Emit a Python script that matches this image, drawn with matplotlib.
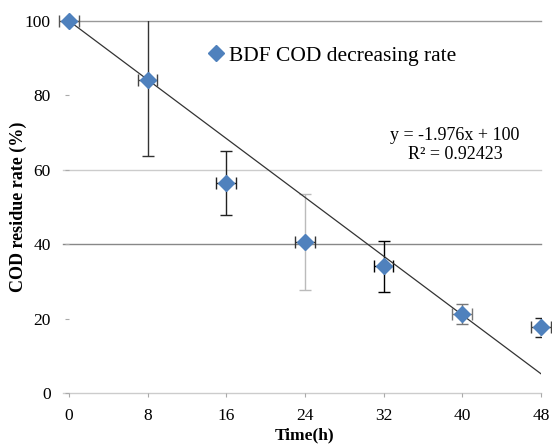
import matplotlib
matplotlib.use("Agg")
import matplotlib.pyplot as plt
import numpy as np

time_h = [0, 8, 16, 24, 32, 40, 48]
cod_residue = [100, 84.1, 56.4, 40.6, 34.0, 21.2, 17.6]
y_err = [0, 20.4, 8.5, 13.0, 6.8, 2.6, 2.6]
x_err = [1, 1, 1, 1, 1, 1, 1]
vcolors = ['#555555', '#333333', '#222222', '#bbbbbb', '#000000', '#777777', '#222222']
hcolors = ['#555555', '#444444', '#222222', '#333333', '#000000', '#777777', '#444444']
slope, intercept = -1.976, 100
x_ticks = [0, 8, 16, 24, 32, 40, 48]
y_ticks = [0, 20, 40, 60, 80, 100]

plt.rcParams['font.family'] = ['Liberation Serif', 'DejaVu Serif']

fig = plt.figure(figsize=(5.52, 4.45), dpi=100)
ax = fig.add_axes([0.125, 0.117, 0.855, 0.836])
ax.set_xlim(0, 48)
ax.set_ylim(0, 100)

# grid lines (visible ones in reference)
for yv, c in [(100, '#999999'), (60, '#cccccc'), (40, '#888888'), (0, '#cccccc')]:
    ax.axhline(yv, color=c, lw=1.0, zorder=1, xmin=-0.013, clip_on=False)

for i in range(len(time_h)):
    ax.errorbar(time_h[i], cod_residue[i], yerr=y_err[i], fmt='none',
                ecolor=vcolors[i], elinewidth=1.0, capsize=4, capthick=1.0, zorder=3)
    ax.errorbar(time_h[i], cod_residue[i], xerr=x_err[i], fmt='none',
                ecolor=hcolors[i], elinewidth=1.0, capsize=4, capthick=1.0, zorder=3,
                clip_on=False)

xs = np.array([0, 48])
ax.plot(xs, slope * xs + intercept, color='#333333', lw=0.9, zorder=4)

ax.plot(time_h, cod_residue, linestyle='none', marker='D', markersize=8.5,
        color='#4F81BD', zorder=5, clip_on=False, label='BDF COD decreasing rate')

leg = ax.legend(loc='upper left', bbox_to_anchor=(0.243, 0.985), frameon=False,
                fontsize=15.5, handletextpad=0.0, handlelength=1.2)

ax.text(0.818, 0.667, 'y = -1.976x + 100\nR² = 0.92423', transform=ax.transAxes,
        ha='center', va='center', fontsize=13, linespacing=1.15)

for s in ax.spines.values():
    s.set_visible(False)
ax.set_xticks(x_ticks)
ax.set_yticks(y_ticks)
ax.tick_params(axis='both', length=3, color='#aaaaaa', labelsize=12.5)
ax.tick_params(axis='x', pad=8)
ax.tick_params(axis='y', pad=10)
ax.set_xlabel('Time(h)', fontsize=12.5, fontweight='bold')
ax.set_ylabel('COD residue rate (%)', fontsize=13, fontweight='bold')
ax.xaxis.set_label_coords(0.5, -0.092)
ax.yaxis.set_label_coords(-0.089, 0.5)

fig.savefig('out.png', dpi=100)
